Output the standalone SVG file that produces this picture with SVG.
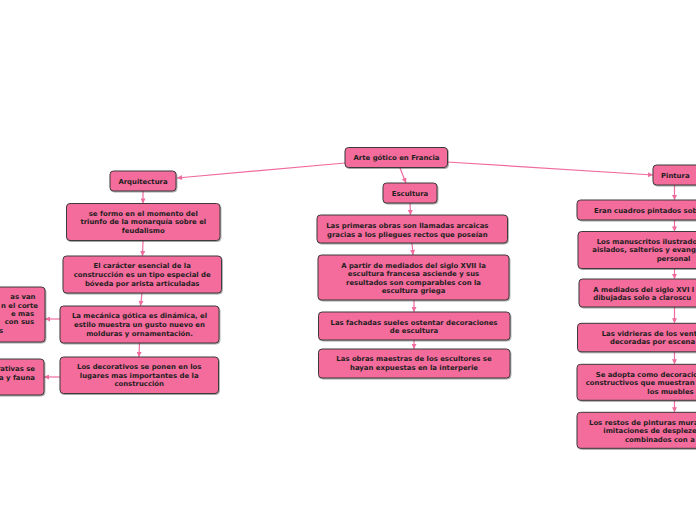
<svg xmlns="http://www.w3.org/2000/svg" width="696" height="520" viewBox="0 0 696 520">
<defs>
<filter id="sh" x="-10%" y="-20%" width="130%" height="160%">
<feDropShadow dx="0.8" dy="1" stdDeviation="0.7" flood-color="#000" flood-opacity="0.35"/>
</filter>
<marker id="ah" viewBox="0 0 10 10" refX="10" refY="5" markerWidth="6" markerHeight="5" markerUnits="userSpaceOnUse" orient="auto">
<path d="M0,0 L10,5 L0,10 z" fill="#f06b9e"/>
</marker>
<style>
.n rect{fill:#f36c9c;stroke:#3a3a3a;stroke-width:1;filter:url(#sh);}
.n text{font-family:"DejaVu Sans",Verdana,sans-serif;font-weight:bold;font-size:6.9px;fill:#1e1e1e;}
.c{text-anchor:middle;}
.e{text-anchor:end;}
#connectors path{fill:none;stroke:#f06b9e;stroke-width:1.2;marker-end:url(#ah);}
</style>
</defs>
<rect width="696" height="520" fill="#ffffff"/>
<g id="connectors">
<path d="M345,163 L177,178"/>
<path d="M400,168 L406,183"/>
<path d="M447,162 L653,175"/>
<path d="M143,191 L143,203.5"/>
<path d="M143,240.5 L142.5,256"/>
<path d="M142,293 L140.5,306"/>
<path d="M139.5,343 L139,357"/>
<path d="M60,319 L45,319"/>
<path d="M60,377 L44,377"/>
<path d="M410,203 L410.5,215"/>
<path d="M412,243 L413,255"/>
<path d="M414,300 L414,312"/>
<path d="M414,340 L414,349"/>
<path d="M674.5,185 L674.5,200"/>
<path d="M674.5,220 L674.5,231.5"/>
<path d="M674.5,268.5 L674.5,279"/>
<path d="M674.5,307 L674.5,323.3"/>
<path d="M674.5,352 L674.5,364.3"/>
<path d="M674.5,400.3 L674.5,412.3"/>
</g>
<g id="root" class="n"><rect x="345" y="147.5" width="102.5" height="20" rx="3.5"/><text class="c" x="396.5" y="159.8">Arte gótico en Francia</text></g>
<g id="arquitectura" class="n"><rect x="110" y="171" width="66" height="20" rx="3.5"/><text class="c" x="143" y="184.1">Arquitectura</text></g>
<g id="escultura" class="n"><rect x="383" y="183" width="54" height="20" rx="3.5"/><text class="c" x="410" y="195.7">Escultura</text></g>
<g id="pintura" class="n"><rect x="653" y="165" width="60" height="20" rx="3.5"/><text x="661" y="178">Pintura</text></g>
<g id="a1" class="n"><rect x="66.5" y="203.5" width="153.5" height="37" rx="3.5"/><text class="c" x="143.3" y="215.8">se formo en el momento del<tspan x="143.3" dy="8.6">triunfo de la monarquía sobre el</tspan><tspan x="143.3" dy="8.6">feudalismo</tspan></text></g>
<g id="a2" class="n"><rect x="63" y="256" width="158.5" height="37" rx="3.5"/><text class="c" x="142.2" y="268.4">El carácter esencial de la<tspan x="142.2" dy="8.6">construcción es un tipo especial de</tspan><tspan x="142.2" dy="8.6">bóveda por arista articuladas</tspan></text></g>
<g id="a3" class="n"><rect x="60" y="306" width="159" height="37" rx="3.5"/><text class="c" x="139.5" y="318.4">La mecánica gótica es dinámica, el<tspan x="139.5" dy="8.6">estilo muestra un gusto nuevo en</tspan><tspan x="139.5" dy="8.6">molduras y ornamentación.</tspan></text></g>
<g id="a4" class="n"><rect x="60" y="357" width="158.5" height="36.5" rx="3.5"/><text class="c" x="139.2" y="369">Los decorativos se ponen en los<tspan x="139.2" dy="8.6">lugares mas importantes de la</tspan><tspan x="139.2" dy="8.6">construcción</tspan></text></g>
<g id="a3b" class="n"><rect x="-110" y="287" width="155" height="55" rx="3.5"/><text class="e" x="35.5" y="299.4">as van<tspan x="38" dy="8.3">n el corte</tspan><tspan x="34" dy="8.3">e mas</tspan><tspan x="34" dy="8.3">con sus</tspan><tspan x="3" dy="8.3">s</tspan></text></g>
<g id="a4b" class="n"><rect x="-110" y="359" width="154" height="36" rx="3.5"/><text class="e" x="35" y="370.7">rativas se<tspan x="35" dy="8.8">a y fauna</tspan></text></g>
<g id="e1" class="n"><rect x="317" y="215" width="190.5" height="28" rx="3.5"/><text class="c" x="407.3" y="228.4">Las primeras obras son llamadas arcaicas<tspan x="407.3" dy="8.4">gracias a los pliegues rectos que poseían</tspan></text></g>
<g id="e2" class="n"><rect x="318" y="255" width="191" height="45" rx="3.5"/><text class="c" x="413.5" y="268">A partir de mediados del siglo XVII la<tspan x="413.5" dy="8.45">escultura francesa asciende y sus</tspan><tspan x="413.5" dy="8.45">resultados son comparables con la</tspan><tspan x="413.5" dy="8.45">escultura griega</tspan></text></g>
<g id="e3" class="n"><rect x="318.5" y="312" width="191.5" height="28" rx="3.5"/><text class="c" x="414" y="325">Las fachadas sueles ostentar decoraciones<tspan x="414" dy="8.4">de escultura</tspan></text></g>
<g id="e4" class="n"><rect x="318.5" y="349" width="191.5" height="29" rx="3.5"/><text class="c" x="414" y="361.4">Las obras maestras de los escultores se<tspan x="414" dy="8.6">hayan expuestas en la interperie</tspan></text></g>
<g id="p1" class="n"><rect x="577" y="200" width="200" height="20" rx="3.5"/><text x="594" y="213">Eran cuadros pintados sob</text></g>
<g id="p2" class="n"><rect x="578" y="231.5" width="200" height="37" rx="3.5"/><text x="596.7" y="244">Los manuscritos ilustrado<tspan x="592.3" dy="8.4">aislados, salterios y evang</tspan><tspan x="656.7" dy="8.4">personal</tspan></text></g>
<g id="p3" class="n"><rect x="579" y="279" width="200" height="28" rx="3.5"/><text x="593.3" y="291.7">A mediados del siglo XVI l<tspan x="593.3" dy="8">dibujadas solo a claroscu</tspan></text></g>
<g id="p4" class="n"><rect x="577.5" y="323.3" width="200" height="28.5" rx="3.5"/><text x="601.7" y="335.7">Las vidrieras de los vent<tspan x="610" dy="8.7">decoradas por escena</tspan></text></g>
<g id="p5" class="n"><rect x="577" y="364.3" width="200" height="36" rx="3.5"/><text x="595.7" y="376.7">Se adopta como decoracio<tspan x="585.7" dy="8.4">constructivos que muestran</tspan><tspan x="647.3" dy="8.9">los muebles</tspan></text></g>
<g id="p6" class="n"><rect x="577" y="412.3" width="200" height="36" rx="3.5"/><text x="589" y="425.1">Los restos de pinturas mura<tspan x="603.3" dy="8">imitaciones  de despleze</tspan><tspan x="625" dy="8.6">combinados con a</tspan></text></g>
</svg>
